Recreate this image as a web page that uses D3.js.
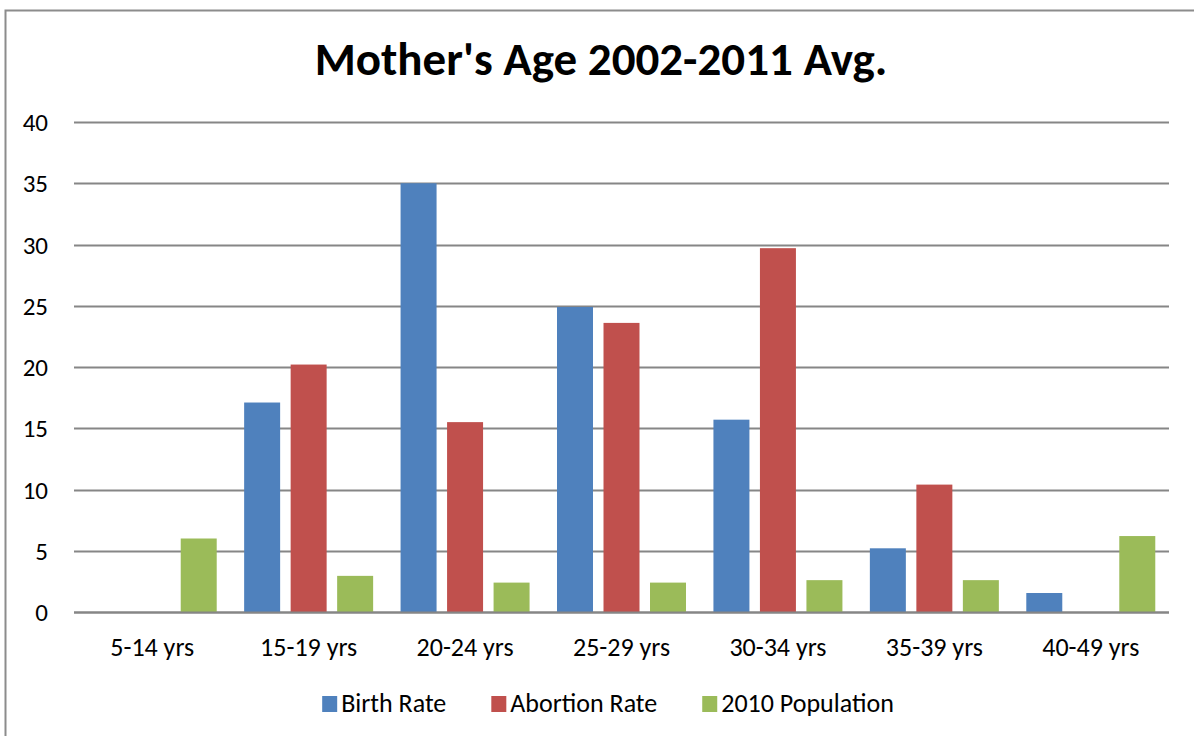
<!DOCTYPE html>
<html>
<head>
<meta charset="utf-8">
<script src="https://cdn.jsdelivr.net/npm/d3@7"></script>
<style>
  html, body { margin: 0; padding: 0; background: #fff; }
  svg { display: block; }
  text { font-family: Carlito, Calibri, Lato, "Open Sans", sans-serif; fill: #000; }
</style>
</head>
<body>
<svg id="chart" width="1194" height="736"></svg>
<script>
const categories = ["5-14 yrs", "15-19 yrs", "20-24 yrs", "25-29 yrs", "30-34 yrs", "35-39 yrs", "40-49 yrs"];
const seriesNames = ["Birth Rate", "Abortion Rate", "2010 Population"];
const birthRate = [0, 17.1, 35.0, 24.9, 15.7, 5.2, 1.55];
const abortionRate = [0, 20.2, 15.5, 23.6, 29.7, 10.4, 0];
const population2010 = [6.0, 2.95, 2.4, 2.4, 2.6, 2.6, 6.2];
const yTicks = [0, 5, 10, 15, 20, 25, 30, 35, 40];
const colors = ["#4F81BD", "#C0504D", "#9BBB59"];

const FONT = "Carlito, Calibri, Lato, 'Open Sans', sans-serif";
const seriesValues = [birthRate, abortionRate, population2010];
const data = categories.map((c, i) => ({
  category: c,
  values: seriesNames.map((s, j) => ({ series: s, value: seriesValues[j][i] }))
}));

const svg = d3.select("#chart");
const margin = { left: 74, right: 1169, top: 122, bottom: 612 };

// outer border (top + left)
svg.append("path")
  .attr("d", "M5.5,736 L5.5,10.5 L1194,10.5")
  .attr("fill", "none")
  .attr("stroke", "#8c8c8c")
  .attr("stroke-width", 2);

const x0 = d3.scaleBand().domain(categories).range([margin.left, margin.right]).paddingInner(0).paddingOuter(0);
const x1 = d3.scaleBand().domain(seriesNames).range([0, x0.bandwidth()]).paddingInner(0.226).paddingOuter(0.295);
const y = d3.scaleLinear().domain([0, 40]).range([margin.bottom, margin.top]);

// gridlines
svg.append("g")
  .selectAll("line")
  .data(yTicks)
  .join("line")
  .attr("x1", margin.left)
  .attr("x2", margin.right)
  .attr("y1", d => Math.round(y(d)) + 0.5)
  .attr("y2", d => Math.round(y(d)) + 0.5)
  .attr("stroke", "#868686")
  .attr("stroke-width", 2);

// y axis labels
const yAxis = d3.axisLeft(y).tickValues(yTicks).tickSize(0).tickPadding(0);
const yg = svg.append("g").attr("transform", `translate(48,0)`).call(yAxis);
yg.attr("font-size", null).attr("font-family", null);
yg.select(".domain").remove();
yg.selectAll("text").attr("x", 0).attr("dy", "0.34em").style("font-size", "25px").style("font-family", FONT);

// bars
const groups = svg.append("g")
  .selectAll("g")
  .data(data)
  .join("g")
  .attr("transform", d => `translate(${x0(d.category)},0)`);

groups.selectAll("rect")
  .data(d => d.values.filter(v => v.value > 0))
  .join("rect")
  .attr("x", d => x1(d.series))
  .attr("width", x1.bandwidth())
  .attr("y", d => y(d.value))
  .attr("height", d => y(0) - y(d.value))
  .attr("fill", (d) => colors[seriesNames.indexOf(d.series)]);

// zero line on top
svg.append("line")
  .attr("x1", margin.left).attr("x2", margin.right)
  .attr("y1", Math.round(y(0)) + 0.5).attr("y2", Math.round(y(0)) + 0.5)
  .attr("stroke", "#868686").attr("stroke-width", 2);

// x axis labels
const xAxis = d3.axisBottom(x0).tickSize(0).tickPadding(0);
const xg = svg.append("g").attr("transform", `translate(0,${margin.bottom})`).call(xAxis);
xg.attr("font-size", null).attr("font-family", null);
xg.select(".domain").remove();
xg.selectAll("text")
  .attr("dy", 0).attr("y", 44)
  .style("font-size", "26px").style("font-family", FONT);

// title
svg.append("text")
  .attr("x", 601)
  .attr("y", 75)
  .attr("text-anchor", "middle")
  .style("font-size", "47px")
  .attr("font-weight", "bold")
  .text("Mother's Age 2002-2011 Avg.");

// legend
const legend = svg.append("g").attr("transform", "translate(0,696)");
const items = legend.selectAll("g")
  .data(seriesNames)
  .join("g");
items.append("rect").attr("width", 15).attr("height", 16).attr("fill", (d, i) => colors[i]);
items.append("text")
  .attr("x", 19).attr("y", 16)
  .style("font-size", "26px")
  .text(d => d);
const gap = 45;
let cursor = 0;
const offsets = [];
items.each(function () {
  offsets.push(cursor);
  const w = 19 + d3.select(this).select("text").node().getComputedTextLength();
  cursor += w + gap;
});
const total = cursor - gap;
const start = 608 - total / 2;
items.attr("transform", (d, i) => `translate(${start + offsets[i]},0)`);
</script>
</body>
</html>
